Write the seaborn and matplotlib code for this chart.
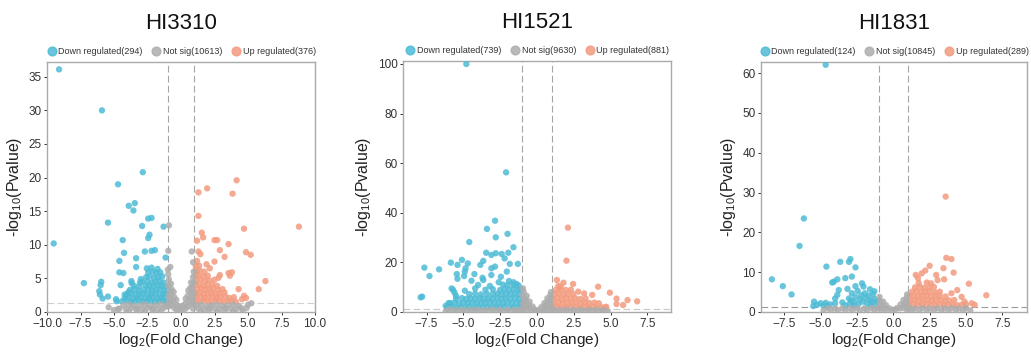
import numpy as np
import pandas as pd
import matplotlib
matplotlib.use("Agg")
import matplotlib.pyplot as plt
from matplotlib.lines import Line2D
import seaborn as sns

sns.set_style("white")
plt.rcParams["font.family"] = ["Liberation Sans", "DejaVu Sans"]
plt.rcParams["mathtext.default"] = "regular"

TITLES = ["HI3310", "HI1521", "HI1831"]
COUNTS_DOWN = [294, 739, 124]
COUNTS_NS = [10613, 9630, 10845]
COUNTS_UP = [376, 881, 289]

# ---------------- HI3310 ----------------
P1_DOWN = [(-9.1, 36.1), (-5.9, 30.0), (-9.5, 10.2), (-2.85, 20.8), (-4.7, 19.0), (-3.9, 15.8),
           (-3.45, 16.2), (-3.55, 15.1), (-5.45, 13.3), (-2.45, 13.9), (-2.2, 14.0), (-2.9, 12.8),
           (-1.3, 12.7), (-2.35, 11.5), (-2.45, 11.0), (-4.35, 10.7), (-4.25, 8.8), (-2.7, 9.0),
           (-2.2, 9.1), (-1.95, 9.2), (-3.35, 8.0), (-4.6, 7.6), (-1.15, 8.1), (-3.35, 6.7),
           (-4.6, 5.9), (-4.3, 5.8), (-7.25, 4.3), (-5.95, 4.5), (-6.0, 4.0), (-4.5, 4.0),
           (-6.1, 3.1), (-6.05, 2.6), (-5.85, 2.0), (-5.45, 2.3), (-4.85, 1.9), (-4.8, 1.6),
           (-3.68, 4.3), (-3.06, 4.4), (-3.0, 4.9), (-3.9, 3.0), (-4.2, 2.6),
           (-4.4, 1.6), (-4.05, 1.7), (-3.75, 1.5), (-3.45, 1.6), (-3.15, 1.7), (-2.85, 1.5),
           (-2.55, 1.6), (-2.25, 1.7), (-1.95, 1.5), (-1.65, 1.6), (-1.35, 1.7), (-1.1, 1.5),
           (-4.2, 2.1), (-3.9, 2.2), (-3.6, 2.0), (-3.3, 2.1), (-3.0, 2.2), (-2.7, 2.0),
           (-2.4, 2.1), (-2.1, 2.2), (-1.8, 2.0), (-1.5, 2.1), (-1.2, 2.2),
           (-4.0, 2.7), (-3.7, 2.8), (-3.4, 2.6), (-3.1, 2.7), (-2.8, 2.8), (-2.5, 2.6),
           (-2.2, 2.7), (-1.9, 2.8), (-1.6, 2.6), (-1.3, 2.7), (-1.05, 2.8),
           (-3.8, 3.3), (-3.45, 3.4), (-3.15, 3.2), (-2.75, 3.3), (-2.45, 3.4), (-2.15, 3.2),
           (-1.85, 3.3), (-1.55, 3.4), (-1.25, 3.2),
           (-3.5, 3.9), (-3.1, 3.8), (-2.65, 4.0), (-2.35, 3.9), (-2.05, 3.8), (-1.75, 4.0),
           (-1.45, 3.9), (-1.15, 3.8),
           (-3.7, 4.6), (-2.9, 4.5), (-2.5, 4.6), (-2.2, 4.4), (-1.9, 4.5), (-1.6, 4.6), (-1.3, 4.4),
           (-2.6, 5.2), (-2.35, 5.3), (-2.0, 5.1), (-1.7, 5.2), (-1.4, 5.3),
           (-2.45, 5.9), (-2.1, 6.0), (-1.85, 5.8), (-1.55, 5.9),
           (-2.55, 6.5), (-2.2, 6.6), (-1.75, 6.4)]
P1_UP = [(4.15, 19.6), (1.95, 18.4), (1.3, 17.8), (3.85, 17.6), (1.3, 14.3), (4.7, 12.4),
         (8.8, 12.7), (1.55, 11.8), (1.65, 11.1), (1.2, 10.6), (2.5, 10.7), (2.7, 10.7),
         (2.9, 9.2), (3.55, 10.1), (3.25, 8.2), (4.85, 8.9), (5.2, 8.5), (1.3, 9.0), (1.45, 8.6),
         (1.9, 7.1), (2.5, 7.5), (2.15, 6.5), (3.55, 5.8), (3.8, 5.9), (3.65, 5.4), (2.9, 5.5),
         (2.8, 5.1), (6.3, 4.6), (5.8, 3.4), (4.7, 2.4), (4.85, 2.1), (4.55, 1.9), (4.3, 3.4),
         (1.1, 1.6), (1.4, 1.5), (1.7, 1.7), (2.0, 1.6), (2.3, 1.5), (2.6, 1.7), (2.9, 1.6),
         (3.2, 1.5), (3.5, 1.7), (3.8, 1.6), (4.1, 1.5),
         (1.15, 2.2), (1.45, 2.3), (1.75, 2.1), (2.05, 2.2), (2.35, 2.3), (2.65, 2.1),
         (2.95, 2.2), (3.3, 2.3), (3.6, 2.1), (3.95, 2.2),
         (1.1, 2.8), (1.4, 2.9), (1.7, 2.7), (2.0, 2.8), (2.3, 2.9), (2.6, 2.7), (2.9, 2.8), (3.25, 2.9),
         (1.2, 3.4), (1.5, 3.5), (1.8, 3.3), (2.1, 3.4), (2.4, 3.5), (2.75, 3.3), (3.1, 3.4),
         (1.1, 4.0), (1.4, 4.1), (1.7, 3.9), (2.0, 4.0), (2.35, 4.1), (2.7, 3.9),
         (1.15, 4.7), (1.45, 4.8), (1.8, 4.6), (2.1, 4.7), (2.5, 4.8),
         (1.1, 5.4), (1.35, 5.5), (1.7, 5.3), (2.0, 5.4),
         (1.15, 6.1), (1.4, 6.2), (1.75, 6.0), (1.1, 6.8), (1.35, 6.9), (1.2, 7.6)]
P1_NS = [(-0.9, 12.9), (-0.95, 9.1), (-0.8, 6.7), (-0.98, 6.3), (0.8, 9.0), (0.9, 7.4),
         (-0.95, 5.6), (-0.9, 4.8), (-0.95, 4.0), (-0.85, 3.2), (-0.95, 2.4), (-0.9, 1.6), (-0.95, 0.8),
         (-0.75, 4.2), (-0.7, 3.4), (-0.75, 2.6), (-0.7, 1.8), (-0.75, 1.0),
         (-0.55, 3.0), (-0.5, 2.2), (-0.55, 1.4), (-0.5, 0.6), (-0.35, 1.8), (-0.3, 1.0),
         (-0.35, 0.4), (-0.15, 0.8), (-0.1, 0.3),
         (0.95, 6.0), (0.9, 5.2), (0.95, 4.4), (0.85, 3.6), (0.95, 2.8), (0.9, 2.0), (0.95, 1.2),
         (0.9, 0.5), (0.75, 4.4), (0.7, 3.6), (0.75, 2.8), (0.7, 2.0), (0.75, 1.2),
         (0.55, 3.2), (0.5, 2.4), (0.55, 1.6), (0.5, 0.8), (0.35, 2.0), (0.3, 1.2), (0.35, 0.5),
         (0.15, 0.9), (0.1, 0.3),
         (-4.3, 1.0), (-3.9, 1.1), (-3.5, 0.9), (-3.1, 1.0), (-2.7, 1.1), (-2.3, 0.9), (-1.9, 1.0),
         (-1.5, 1.1), (-1.15, 0.9), (1.15, 1.0), (1.5, 1.1), (1.9, 0.9), (2.3, 1.0), (2.7, 1.1),
         (3.1, 0.9), (3.5, 1.0), (3.9, 1.1), (4.3, 0.9),
         (-4.6, 0.5), (-4.1, 0.4), (-3.7, 0.6), (-3.3, 0.5), (-2.9, 0.4), (-2.5, 0.6), (-2.1, 0.5),
         (-1.7, 0.4), (-1.3, 0.6), (1.3, 0.5), (1.7, 0.4), (2.1, 0.6), (2.5, 0.5), (2.9, 0.4),
         (3.3, 0.6), (3.7, 0.5), (4.1, 0.4), (4.5, 0.6),
         (-3.9, 0.1), (-3.3, 0.15), (-2.7, 0.1), (-2.1, 0.15), (-1.5, 0.1), (1.5, 0.1), (2.1, 0.15),
         (2.7, 0.1), (3.3, 0.15), (3.9, 0.1), (4.6, 0.15),
         (-5.4, 0.7), (-4.7, 0.45), (-5.0, 0.3), (5.25, 1.3), (4.9, 0.6), (5.0, 1.1)]

# ---------------- HI1521 ----------------
P2_DOWN = [(-4.8, 100.0), (-2.1, 56.3), (-2.85, 36.8), (-3.4, 33.5), (-2.0, 31.5), (-2.8, 30.1),
           (-4.6, 28.2), (-1.6, 26.1), (-3.45, 23.9), (-3.1, 23.0), (-2.8, 23.7), (-2.4, 23.4),
           (-2.2, 21.6), (-1.95, 23.9), (-1.3, 19.4), (-1.85, 19.4), (-7.65, 17.9), (-6.65, 17.2),
           (-7.3, 14.5), (-5.85, 19.9), (-5.4, 19.0), (-5.1, 21.0), (-4.7, 19.6), (-3.85, 19.0),
           (-3.65, 20.6), (-3.1, 17.6), (-2.85, 18.3), (-4.85, 17.6), (-4.9, 16.3), (-5.45, 15.3),
           (-4.95, 14.5), (-4.25, 15.3), (-3.7, 13.8), (-5.4, 13.4), (-4.45, 12.6), (-3.1, 14.9),
           (-2.45, 14.2), (-2.05, 16.3), (-5.7, 8.9), (-5.6, 7.8), (-4.9, 8.6), (-7.9, 5.9),
           (-7.8, 6.2), (-3.65, 12.9), (-4.0, 10.9), (-5.8, 9.5), (-5.5, 6.5), (-4.2, 9.5),
           (-3.2, 10.5), (-2.6, 12.0), (-2.3, 11.0), (-1.9, 12.5), (-1.6, 12.0), (-1.4, 11.3),
           (-6.0, 3.6), (-6.2, 2.5),
           (-6.1, 1.8), (-5.8, 2.0), (-5.5, 1.7), (-5.2, 1.9), (-4.9, 1.8), (-4.6, 2.0), (-4.3, 1.7),
           (-4.0, 1.9), (-3.7, 1.8), (-3.4, 2.0), (-3.1, 1.7), (-2.8, 1.9), (-2.5, 1.8), (-2.2, 2.0),
           (-1.9, 1.7), (-1.6, 1.9), (-1.3, 1.8), (-1.05, 2.0),
           (-5.9, 3.6), (-5.6, 3.8), (-5.3, 3.5), (-5.0, 3.7), (-4.7, 3.6), (-4.4, 3.8), (-4.1, 3.5),
           (-3.8, 3.7), (-3.5, 3.6), (-3.2, 3.8), (-2.9, 3.5), (-2.6, 3.7), (-2.3, 3.6), (-2.0, 3.8),
           (-1.7, 3.5), (-1.4, 3.7), (-1.1, 3.6),
           (-5.5, 5.4), (-5.1, 5.6), (-4.8, 5.3), (-4.5, 5.5), (-4.2, 5.4), (-3.9, 5.6), (-3.6, 5.3),
           (-3.3, 5.5), (-3.0, 5.4), (-2.7, 5.6), (-2.4, 5.3), (-2.1, 5.5), (-1.8, 5.4), (-1.5, 5.6),
           (-1.2, 5.3),
           (-4.6, 7.2), (-4.2, 7.4), (-3.8, 7.1), (-3.4, 7.3), (-3.0, 7.2), (-2.7, 7.4), (-2.4, 7.1),
           (-2.1, 7.3), (-1.8, 7.2), (-1.5, 7.4), (-1.2, 7.1),
           (-3.5, 9.0), (-3.0, 9.2), (-2.5, 8.9), (-2.2, 9.1), (-1.9, 9.0), (-1.6, 9.2), (-1.3, 8.9),
           (-1.1, 9.1), (-2.0, 10.8), (-1.6, 10.9), (-1.25, 10.7)]
P2_UP = [(2.1, 34.0), (2.0, 20.7), (1.35, 12.9), (1.8, 11.8), (2.45, 11.3), (4.15, 10.2),
         (4.95, 7.8), (3.75, 6.9), (5.4, 5.4), (6.15, 4.8), (6.8, 4.3), (5.4, 3.2), (5.85, 2.8),
         (4.7, 2.1), (3.2, 7.5), (2.8, 8.2), (1.6, 10.2), (2.3, 9.0),
         (1.1, 1.8), (1.4, 2.0), (1.7, 1.7), (2.0, 1.9), (2.3, 1.8), (2.6, 2.0), (2.9, 1.7),
         (3.2, 1.9), (3.5, 1.8), (3.8, 2.0), (4.1, 1.7), (4.4, 1.9), (4.65, 1.8),
         (1.15, 3.6), (1.45, 3.8), (1.75, 3.5), (2.05, 3.7), (2.35, 3.6), (2.65, 3.8), (2.95, 3.5),
         (3.25, 3.7), (3.55, 3.6), (3.9, 3.8), (4.2, 3.5),
         (1.1, 5.4), (1.4, 5.6), (1.7, 5.3), (2.0, 5.5), (2.3, 5.4), (2.6, 5.6), (2.95, 5.3), (3.3, 5.5),
         (1.2, 7.2), (1.5, 7.4), (1.8, 7.1), (2.1, 7.3), (2.45, 7.2),
         (1.3, 9.0), (1.6, 9.2), (1.95, 8.9), (1.45, 10.5)]
P2_NS = [(-0.95, 9.5), (-0.9, 8.0), (-0.95, 6.5), (-0.85, 5.0), (-0.95, 3.5), (-0.9, 2.0),
         (-0.95, 0.6), (-0.7, 6.5), (-0.75, 5.0), (-0.7, 3.5), (-0.75, 2.0), (-0.7, 0.7),
         (-0.5, 4.2), (-0.55, 2.8), (-0.5, 1.4), (-0.3, 2.2), (-0.35, 0.9), (-0.15, 1.0), (-0.05, 0.3),
         (0.95, 8.0), (0.9, 6.8), (0.95, 5.6), (0.85, 4.4), (0.95, 3.2), (0.9, 2.0), (0.95, 0.7),
         (0.7, 5.5), (0.75, 4.2), (0.7, 3.0), (0.75, 1.8), (0.7, 0.6), (0.5, 3.6), (0.55, 2.4),
         (0.5, 1.2), (0.3, 2.0), (0.35, 0.8), (0.15, 0.9), (0.05, 0.3),
         (-6.0, 1.0), (-5.5, 0.9), (-5.0, 1.0), (-4.5, 0.9), (-4.0, 1.0), (-3.5, 0.9), (-3.0, 1.0),
         (-2.5, 0.9), (-2.0, 1.0), (-1.5, 0.9), (-1.1, 1.0), (1.1, 1.0), (1.5, 0.9), (2.0, 1.0),
         (2.5, 0.9), (3.0, 1.0), (3.5, 0.9), (4.0, 1.0), (4.5, 0.9),
         (-6.2, 0.3), (-5.7, 0.35), (-5.2, 0.3), (-4.7, 0.35), (-4.2, 0.3), (-3.7, 0.35), (-3.2, 0.3),
         (-2.7, 0.35), (-2.2, 0.3), (-1.7, 0.35), (-1.3, 0.3), (1.3, 0.3), (1.8, 0.35), (2.3, 0.3),
         (2.8, 0.35), (3.3, 0.3), (3.8, 0.35), (4.3, 0.3), (4.8, 0.35)]

# ---------------- HI1831 ----------------
P3_DOWN = [(-4.65, 62.1), (-6.15, 23.5), (-6.45, 16.6), (-8.35, 8.2), (-7.6, 6.5), (-7.0, 4.4),
           (-4.6, 11.4), (-3.65, 12.6), (-3.05, 12.6), (-2.95, 13.3), (-2.6, 11.2), (-3.3, 8.5),
           (-2.85, 8.9), (-3.85, 8.2), (-4.1, 7.6), (-4.2, 7.4), (-3.75, 5.5), (-2.6, 6.5),
           (-2.15, 7.2), (-2.05, 6.4), (-1.6, 5.7), (-1.95, 4.7), (-2.85, 4.7), (-2.6, 3.8),
           (-3.05, 3.4), (-5.45, 2.6), (-5.0, 2.2), (-4.65, 2.3), (-4.0, 2.2), (-5.25, 1.8),
           (-4.55, 1.5), (-4.0, 3.4), (-3.85, 4.3),
           (-3.0, 2.0), (-2.7, 2.5), (-2.4, 2.0), (-2.1, 2.6), (-1.8, 2.1), (-1.5, 2.5), (-1.2, 2.0),
           (-2.9, 2.9), (-2.3, 3.2), (-1.9, 3.5), (-1.6, 3.0), (-1.3, 3.3), (-2.2, 4.2), (-1.7, 4.1),
           (-1.4, 4.5), (-2.45, 5.3), (-1.3, 5.2), (-2.7, 1.6), (-1.55, 1.6), (-3.3, 1.7),
           (-3.5, 2.4), (-4.35, 1.9), (-4.8, 1.6), (-5.5, 1.5), (-3.15, 5.8), (-1.1, 2.8)]
P3_UP = [(3.6, 29.0), (3.65, 13.6), (4.0, 13.3), (3.45, 11.0), (4.15, 9.9), (2.5, 11.6),
         (2.2, 10.4), (2.95, 9.3), (3.5, 8.2), (3.05, 8.0), (5.2, 7.1), (6.4, 4.2), (1.55, 9.3),
         (1.7, 8.5), (1.95, 9.7), (4.4, 5.5), (4.0, 4.7), (4.7, 3.8), (4.9, 2.6), (5.4, 2.2),
         (5.6, 1.8),
         (1.1, 1.8), (1.4, 1.9), (1.7, 1.7), (2.0, 1.8), (2.3, 1.9), (2.6, 1.7), (2.9, 1.8),
         (3.2, 1.9), (3.5, 1.7), (3.8, 1.8), (4.1, 1.9), (4.4, 1.7), (4.7, 1.8), (5.0, 1.9),
         (1.15, 2.9), (1.45, 3.0), (1.75, 2.8), (2.05, 2.9), (2.35, 3.0), (2.65, 2.8), (2.95, 2.9),
         (3.25, 3.0), (3.55, 2.8), (3.85, 2.9), (4.2, 3.0),
         (1.1, 4.0), (1.4, 4.1), (1.7, 3.9), (2.0, 4.0), (2.3, 4.1), (2.6, 3.9), (2.9, 4.0),
         (3.2, 4.1), (3.6, 3.9),
         (1.3, 5.1), (1.6, 5.2), (1.9, 5.0), (2.2, 5.1), (2.5, 5.2), (2.85, 5.0), (3.2, 5.1),
         (1.5, 6.2), (1.85, 6.3), (2.15, 6.1), (2.5, 6.2), (2.8, 6.3), (1.75, 7.3), (2.3, 7.4), (2.6, 7.2)]
P3_NS = [(-0.95, 3.8), (-0.9, 2.8), (-0.95, 1.8), (-0.9, 0.9), (-0.7, 2.6), (-0.75, 1.6),
         (-0.7, 0.6), (-0.5, 1.7), (-0.45, 0.8), (-0.25, 0.9), (-0.1, 0.3),
         (0.95, 4.4), (0.9, 3.4), (0.95, 2.4), (0.9, 1.4), (0.95, 0.5), (0.7, 3.0), (0.75, 2.0),
         (0.7, 1.0), (0.5, 1.9), (0.45, 0.9), (0.25, 1.0), (0.1, 0.3),
         (-4.5, 1.0), (-4.0, 0.9), (-3.5, 1.0), (-3.0, 0.9), (-2.5, 1.0), (-2.0, 0.9), (-1.5, 1.0),
         (-1.1, 0.9), (1.1, 1.0), (1.5, 0.9), (2.0, 1.0), (2.5, 0.9), (3.0, 1.0), (3.5, 0.9),
         (4.0, 1.0), (4.5, 0.9), (5.0, 1.0),
         (-4.8, 0.4), (-4.3, 0.35), (-3.8, 0.4), (-3.3, 0.35), (-2.8, 0.4), (-2.3, 0.35), (-1.8, 0.4),
         (-1.3, 0.35), (1.3, 0.4), (1.8, 0.35), (2.3, 0.4), (2.8, 0.35), (3.3, 0.4), (3.8, 0.35),
         (4.3, 0.4), (4.8, 0.35), (5.3, 0.4)]

PANELS = [
    (P1_DOWN, P1_NS, P1_UP, (-10, 10), [-10, -7.5, -5, -2.5, 0, 2.5, 5, 7.5, 10], (0, 37.2), [0, 5, 10, 15, 20, 25, 30, 35]),
    (P2_DOWN, P2_NS, P2_UP, (-9.1, 9.1), [-7.5, -5, -2.5, 0, 2.5, 5, 7.5], (0, 101.2), [0, 20, 40, 60, 80, 100]),
    (P3_DOWN, P3_NS, P3_UP, (-9.1, 9.2), [-7.5, -5, -2.5, 0, 2.5, 5, 7.5], (0, 62.8), [0, 10, 20, 30, 40, 50, 60]),
]

COL_DOWN = "#4DBBD5"
COL_NS = "#ADADAD"
COL_UP = "#F39B7F"

W, H = 1031, 354
fig = plt.figure(figsize=(W / 100, H / 100), dpi=100)
boxes = [(47, 315, 62, 312), (403, 671, 61, 312), (761, 1027, 62, 312)]
hline_cols = ["#d0d0d0", "#c8c8c8", "#9a9a9a"]

for i, (box, (down, ns, up, xlim, xt, ylim, yt)) in enumerate(zip(boxes, PANELS)):
    l, r, t, b = box
    ax = fig.add_axes([l / W, (H - b) / H, (r - l) / W, (b - t) / H])
    rows = ([(x, y, "Down") for x, y in down] + [(x, y, "Up") for x, y in up]
            + [(x, y, "Not sig") for x, y in ns])
    df = pd.DataFrame(rows, columns=["log2fc", "nlogp", "group"])
    sns.scatterplot(data=df, x="log2fc", y="nlogp", hue="group",
                    palette={"Down": COL_DOWN, "Not sig": COL_NS, "Up": COL_UP},
                    s=21, linewidth=0, alpha=0.85, legend=False, ax=ax, zorder=3)
    for xv in (-1, 1):
        ax.axvline(xv, color="#a5a5a5", lw=0.8, ls=(0, (6, 3)), zorder=2)
    ax.axhline(-np.log10(0.05), color=hline_cols[i], lw=0.8, ls=(0, (6, 3)), zorder=2)
    ax.set_xlim(*xlim)
    ax.set_ylim(*ylim)
    ax.set_xticks(xt)
    ax.set_yticks(yt)
    ax.set_xticklabels([f"{v:.1f}".replace("-", "\u2212") for v in xt])
    ax.set_yticklabels([str(v) for v in yt])
    ax.tick_params(axis="both", labelsize=8.5, colors="#333333", length=2.5, width=0.7,
                   direction="out", pad=1.5, left=True, bottom=True)
    for sp in ax.spines.values():
        sp.set_color("#aaaaaa")
        sp.set_linewidth(1.0)
    ax.set_xlabel("log$_{2}$(Fold Change)", fontsize=11, color="#222222", labelpad=1)
    ax.set_ylabel("-log$_{10}$(Pvalue)", fontsize=11.5, color="#222222", labelpad=3)
    ax.set_title(TITLES[i], fontsize=16, color="#111111", pad=24)
    handles = [
        Line2D([], [], marker="o", ls="", color=COL_DOWN, markersize=6.3, alpha=0.85,
               label=f"Down regulated({COUNTS_DOWN[i]})"),
        Line2D([], [], marker="o", ls="", color=COL_NS, markersize=6.3, alpha=0.85,
               label=f"Not sig({COUNTS_NS[i]})"),
        Line2D([], [], marker="o", ls="", color=COL_UP, markersize=6.3, alpha=0.85,
               label=f"Up regulated({COUNTS_UP[i]})"),
    ]
    leg = ax.legend(handles=handles, loc="lower center", bbox_to_anchor=(0.5, 1.0), ncol=3,
                    frameon=False, fontsize=6.5, handletextpad=0.15, columnspacing=0.9,
                    borderaxespad=0.3, handlelength=1.2)
    for txt in leg.get_texts():
        txt.set_color("#333333")

fig.savefig("out.png", dpi=100)
